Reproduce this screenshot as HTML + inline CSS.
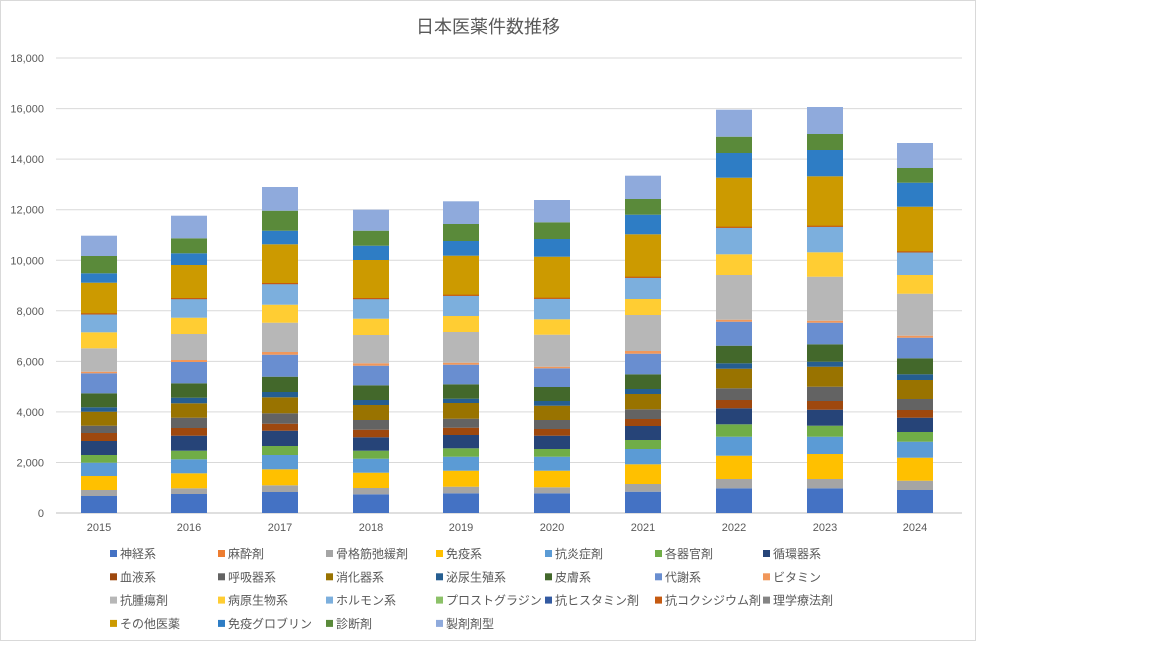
<!DOCTYPE html>
<html><head><meta charset="utf-8"><style>
html,body{margin:0;padding:0;background:#fff;}
svg text{font-family:"Liberation Sans","Noto Sans CJK JP",sans-serif;}
</style></head><body>
<svg id="s" width="1152" height="648" xmlns="http://www.w3.org/2000/svg">
<rect x="0.5" y="0.5" width="975" height="640" fill="#fff" stroke="#d9d9d9"/>
<text x="488" y="33" text-anchor="middle" font-size="18" fill="#595959">日本医薬件数推移</text>
<g id="grid"></g><g id="bars"></g><g id="leg"></g>
</svg>
<script>
var NS="http://www.w3.org/2000/svg",s=document.getElementById('s');
function el(t,a,p,txt){var e=document.createElementNS(NS,t);for(var k in a)e.setAttribute(k,a[k]);if(txt!=null)e.textContent=txt;(p||s).appendChild(e);return e;}
var g=document.getElementById('grid');
for(var i=0;i<=9;i++){var y=513-i*50.55;el('line',{x1:56,x2:962,y1:y,y2:y,stroke:i?'#d9d9d9':'#bfbfbf','stroke-width':1},g);
el('text',{x:44,y:y+4,'text-anchor':'end','font-size':11,fill:'#595959'},g,(i*2000).toLocaleString('en-US'));}
var cols=['#4472C4','#A5A5A5','#FFC000','#5B9BD5','#70AD47','#264478','#9E480E','#636363','#997300','#255E91','#43682B','#698ED0','#F1975A','#B7B7B7','#FFCD33','#7CAFDD','#CC9A00','#2E7DC5','#5A8A3A','#8FAADC'];
var data=[
[496,490,476,462.7,455,441,433,425.7,411.7,407.3,393.3,373.3,371.7,348.3,332.3,314.3,282.7,273.3,256,235.7],
[494,488.3,473.3,459.3,450.7,435.7,428,417.7,403.3,397.7,383.3,362,360,334,317.7,299,265,253.3,238.3,215.7],
[492,485.3,469.3,455,446,430.7,423.7,413.3,397.3,392,376.7,354.7,352,322.7,304.7,284,244.3,230.7,210.7,187],
[494.3,488,472.7,458.7,450.7,437.3,429.7,420,405,400,385.3,365.7,363.3,335,318.7,299,260,245.7,230.7,209.7],
[493.3,486.7,470.7,456.7,448.3,435,427.7,418.7,403,398.7,384.3,364.7,362.7,332,316,295.7,255.7,241,224,201.3],
[493.3,487.3,470.7,456.7,449,435.7,429,420,405.7,401,387,368.3,366.7,334.7,319.3,298.7,256.7,239,222.3,200],
[491.7,484,464.3,449,440,426,419,409.3,394,389,374.3,353.7,351,315,299,277.7,234.3,214.7,199,175.7],
[488.3,479,455.7,436.7,424.3,408.3,400,388.3,368.7,363.3,345.7,321.7,319.7,275,254.3,227.7,177.7,153,136.7,109.7],
[488.3,479,454,436.7,425.7,409.7,401,386.7,366.7,361.7,344.3,322.7,320.7,276.7,252.3,226.7,176.3,150,134,107],
[490,480.7,457.7,441.7,432,417.7,410,399,380,374.3,358.3,337.7,335.7,293.7,275,252.3,206.7,182.7,168,143]];
var cx=[99,189,280,371,461,552,643,734,825,915],b=document.getElementById('bars');
data.forEach(function(d,j){var prev=513;d.forEach(function(t,k){el('rect',{x:cx[j]-18,y:t,width:36,height:prev-t,fill:cols[k]},b);prev=t;});
el('rect',{x:cx[j]-18,y:d[15]-1,width:36,height:1.2,fill:'#C55A11'},b);
el('text',{x:cx[j],y:531,'text-anchor':'middle','font-size':11,fill:'#595959'},b,String(2015+j));});
var L=[['神経系','#4472C4'],['麻酔剤','#ED7D31'],['骨格筋弛緩剤','#A5A5A5'],['免疫系','#FFC000'],['抗炎症剤','#5B9BD5'],['各器官剤','#70AD47'],['循環器系','#264478'],
['血液系','#9E480E'],['呼吸器系','#636363'],['消化器系','#997300'],['泌尿生殖系','#255E91'],['皮膚系','#43682B'],['代謝系','#698ED0'],['ビタミン','#F1975A'],
['抗腫瘍剤','#B7B7B7'],['病原生物系','#FFCD33'],['ホルモン系','#7CAFDD'],['プロストグラジン','#8CC168'],['抗ヒスタミン剤','#335AA1'],['抗コクシジウム剤','#C55A11'],['理学療法剤','#848484'],
['その他医薬','#CC9A00'],['免疫グロブリン','#2E7DC5'],['診断剤','#5A8A3A'],['製剤剤型','#8FAADC']];
var lx=[110,218,326,436,545,655,763],lg=document.getElementById('leg');
L.forEach(function(it,i){var r=Math.floor(i/7),c=i%7,y=554+r*23.3;
el('rect',{x:lx[c],y:y-4,width:7,height:7,fill:it[1]},lg);
el('text',{x:lx[c]+10,y:y+4,'font-size':12,fill:'#595959'},lg,it[0]);});
</script>
</body></html>
